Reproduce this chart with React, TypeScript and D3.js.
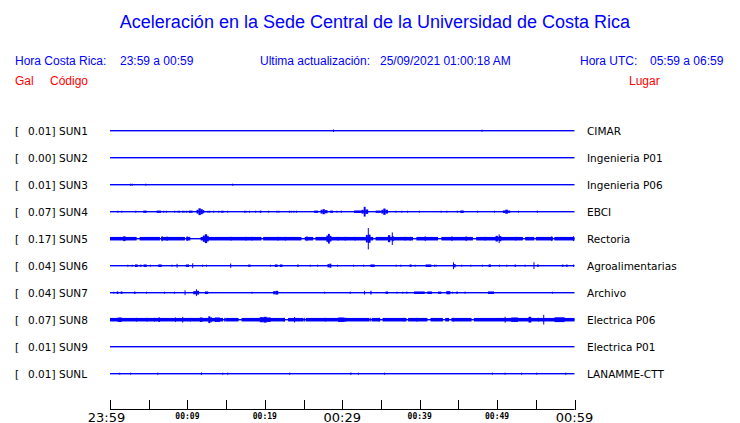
import React from "react";
import * as d3 from "d3";

// ---- Data ----
const stations = ["SUN1", "SUN2", "SUN3", "SUN4", "SUN5", "SUN6", "SUN7", "SUN8", "SUN9", "SUNL"];
const peaks = ["0.01", "0.00", "0.01", "0.07", "0.17", "0.04", "0.04", "0.07", "0.01", "0.01"];
const places = ["CIMAR", "Ingenieria P01", "Ingenieria P06", "EBCI", "Rectoria", "Agroalimentarias", "Archivo", "Electrica P06", "Electrica P01", "LANAMME-CTT"];

const tickMinutes = [0, 5, 10, 15, 20, 25, 30, 35, 40, 45, 50, 55, 60];
const tickLabels: [number, string, boolean][] = [
  [0, "23:59", true], [10, "00:09", false], [20, "00:19", false], [30, "00:29", true],
  [40, "00:39", false], [50, "00:49", false], [60, "00:59", true],
];

// events: [minute, duration (min), amplitude (gal)]
type Ev = [number, number, number];
const sun1Events: Ev[] = [[28.8, 0.05, 0.02], [48.0, 0.05, 0.012]];
const sun2Events: Ev[] = [];
const sun3Events: Ev[] = [[2.6, 0.05, 0.012], [2.8, 0.05, 0.012], [4.56, 0.05, 0.012], [15.78, 0.05, 0.01]];
const sun4Events: Ev[] = [
  [0.95, 0.05, 0.012], [1.46, 0.05, 0.012], [3.27, 0.05, 0.012], [4.3, 0.43, 0.018], [6.02, 0.56, 0.018],
  [6.88, 0.05, 0.012], [7.23, 0.05, 0.015], [8.3, 0.05, 0.015], [8.73, 0.05, 0.015], [8.9, 0.05, 0.012],
  [9.33, 0.1, 0.015], [9.5, 0.1, 0.015], [9.8, 0.05, 0.015], [10.19, 0.47, 0.018],
  [11.18, 0.25, 0.03], [11.43, 0.3, 0.054], [11.73, 0.25, 0.04], [11.98, 0.2, 0.025],
  [12.6, 0.05, 0.015], [12.82, 0.05, 0.015], [13.33, 0.05, 0.012], [13.98, 0.05, 0.015], [14.37, 0.3, 0.015],
  [15.14, 0.05, 0.012], [17.33, 0.05, 0.015], [17.5, 0.05, 0.012], [17.94, 0.05, 0.012], [18.75, 0.05, 0.012],
  [19.35, 0.2, 0.018], [20.43, 0.05, 0.012], [21.5, 0.05, 0.012], [21.76, 0.05, 0.015], [23.1, 0.05, 0.012],
  [23.35, 0.05, 0.012], [23.7, 0.05, 0.012], [24.04, 0.05, 0.012], [26.37, 0.5, 0.018],
  [27.2, 0.25, 0.03], [27.45, 0.3, 0.04], [27.75, 0.35, 0.025], [28.43, 0.38, 0.018], [29.25, 0.05, 0.012],
  [29.8, 0.1, 0.018], [31.53, 0.95, 0.02], [32.47, 0.3, 0.03], [32.77, 0.25, 0.077], [33.0, 0.35, 0.035],
  [34.32, 0.65, 0.018], [35.05, 0.25, 0.03], [35.3, 0.3, 0.05], [35.6, 0.3, 0.03], [36.86, 0.1, 0.012],
  [37.63, 0.1, 0.015], [38.37, 0.05, 0.012], [39.9, 0.05, 0.012], [42.7, 0.05, 0.012], [43.44, 0.05, 0.012],
  [44.8, 0.05, 0.012], [45.25, 0.45, 0.02], [47.4, 0.05, 0.012], [49.6, 0.05, 0.012],
  [50.75, 0.3, 0.02], [51.05, 0.35, 0.032], [51.4, 0.3, 0.018], [52.7, 0.05, 0.012], [55.14, 0.05, 0.018],
];
const sun5Events: Ev[] = [
  [1.7, 0.3, 0.038], [6.67, 0.05, 0.04], [7.31, 0.05, 0.035], [9.9, 0.05, 0.038],
  [12.0, 0.25, 0.05], [12.25, 0.3, 0.07], [12.55, 0.2, 0.045],
  [15.57, 0.05, 0.03], [17.5, 0.05, 0.03], [18.28, 0.05, 0.03], [21.63, 0.05, 0.03], [22.58, 0.05, 0.03],
  [25.38, 0.1, 0.038], [27.95, 0.2, 0.05], [28.15, 0.25, 0.077], [28.4, 0.2, 0.045],
  [29.38, 0.05, 0.03], [30.32, 0.05, 0.03], [31.6, 0.05, 0.03],
  [33.05, 0.25, 0.06], [33.3, 0.05, 0.17], [33.35, 0.3, 0.065],
  [35.9, 0.3, 0.055], [36.4, 0.05, 0.1], [36.45, 0.2, 0.04],
  [38.06, 0.05, 0.03], [38.7, 0.05, 0.03], [40.65, 0.1, 0.038], [44.1, 0.1, 0.038], [45.94, 0.1, 0.038],
  [48.39, 0.05, 0.03], [49.8, 0.3, 0.045], [50.2, 0.05, 0.07], [50.25, 0.3, 0.04], [52.35, 0.05, 0.03],
  [57.0, 0.1, 0.038], [59.8, 0.1, 0.038],
];
const sun6Events: Ev[] = [
  [2.24, 0.05, 0.012], [2.8, 0.05, 0.012], [3.23, 0.35, 0.02], [3.83, 0.26, 0.015], [4.34, 0.4, 0.02],
  [5.16, 0.05, 0.015], [6.24, 0.43, 0.02], [7.96, 0.05, 0.012], [8.6, 0.05, 0.03], [9.8, 0.4, 0.02],
  [10.62, 0.1, 0.038], [11.9, 0.05, 0.012], [12.4, 0.05, 0.012], [15.53, 0.05, 0.035], [17.85, 0.3, 0.018],
  [20.65, 0.05, 0.015], [21.3, 0.35, 0.02], [21.94, 0.35, 0.02], [24.17, 0.2, 0.018], [25.8, 0.05, 0.012],
  [26.75, 0.05, 0.012], [28.09, 0.25, 0.025], [28.34, 0.25, 0.032], [29.33, 0.05, 0.015], [31.4, 0.05, 0.015],
  [32.69, 0.05, 0.015], [33.63, 0.56, 0.02], [36.9, 0.05, 0.015], [37.5, 0.05, 0.015], [38.7, 0.25, 0.02],
  [39.35, 0.05, 0.015], [40.77, 0.73, 0.02], [41.85, 0.05, 0.015], [42.06, 0.05, 0.015], [44.3, 0.1, 0.054],
  [44.4, 0.25, 0.025], [45.38, 0.05, 0.015], [46.54, 0.05, 0.012], [48.04, 0.05, 0.015], [48.9, 0.3, 0.02],
  [50.24, 0.05, 0.015], [51.18, 0.05, 0.015], [52.26, 0.2, 0.018], [53.55, 0.05, 0.012], [54.7, 0.05, 0.054],
  [55.18, 0.2, 0.02], [58.37, 0.2, 0.018], [58.92, 0.2, 0.018], [59.8, 0.15, 0.018],
];
const sun7Events: Ev[] = [
  [0.43, 0.05, 0.012], [0.86, 0.22, 0.02], [1.38, 0.22, 0.02], [3.1, 0.2, 0.018], [4.65, 0.05, 0.012],
  [6.97, 0.1, 0.015], [8.26, 0.05, 0.015], [9.63, 0.1, 0.038], [10.75, 0.35, 0.025], [11.1, 0.1, 0.054],
  [11.2, 0.3, 0.03], [12.26, 0.43, 0.02], [18.28, 0.05, 0.015], [21.08, 0.3, 0.025], [21.38, 0.35, 0.03],
  [27.66, 0.05, 0.01], [30.97, 0.1, 0.018], [32.82, 0.1, 0.03], [33.63, 0.15, 0.03], [35.6, 0.3, 0.02],
  [37.0, 0.1, 0.015], [37.76, 0.05, 0.015], [38.28, 0.1, 0.018], [39.27, 1.38, 0.02], [40.99, 0.6, 0.02],
  [42.37, 0.43, 0.018], [43.44, 0.52, 0.025], [44.2, 0.05, 0.015], [44.73, 0.2, 0.018], [45.8, 0.1, 0.018],
  [48.82, 0.78, 0.02], [57.08, 0.05, 0.01],
];
const sun8Events: Ev[] = [
  [0.99, 0.52, 0.035], [3.35, 0.05, 0.03], [4.73, 0.05, 0.03], [5.68, 0.05, 0.03], [6.24, 0.22, 0.035],
  [8.39, 0.1, 0.035], [9.33, 0.1, 0.046], [10.32, 0.05, 0.03], [11.6, 0.35, 0.035], [12.7, 0.25, 0.054],
  [12.95, 0.2, 0.04], [13.55, 0.65, 0.035], [14.75, 0.05, 0.03], [19.35, 0.5, 0.04], [19.85, 0.4, 0.046],
  [20.25, 0.5, 0.035], [22.45, 0.05, 0.03], [23.78, 0.1, 0.043], [25.08, 0.05, 0.03], [27.74, 0.05, 0.03],
  [29.46, 0.75, 0.035], [30.2, 0.3, 0.03], [33.55, 0.05, 0.03], [34.7, 0.05, 0.03], [37.93, 0.05, 0.03],
  [39.57, 0.05, 0.03], [44.3, 0.05, 0.03], [50.97, 0.1, 0.046], [51.83, 0.86, 0.035], [54.06, 0.35, 0.046],
  [55.27, 0.05, 0.03], [55.96, 0.1, 0.077], [57.42, 1.3, 0.038],
];
const sun9Events: Ev[] = [];
const sunlEvents: Ev[] = [
  [1.2, 0.05, 0.012], [2.6, 0.05, 0.01], [6.1, 0.05, 0.01], [11.74, 0.1, 0.02], [14.5, 0.05, 0.015],
  [15.14, 0.05, 0.012], [23.14, 0.05, 0.015], [31.05, 0.05, 0.02], [32.04, 0.05, 0.012], [35.4, 0.05, 0.012],
  [49.33, 0.05, 0.012], [50.97, 0.1, 0.015], [53.1, 0.1, 0.015], [55.05, 0.05, 0.015], [58.8, 0.05, 0.015],
];

// continuous noise bands: [start minute, end minute]
const sun5Band: [number, number][] = [
  [0, 3.44], [3.83, 6.45], [6.58, 9.68], [9.85, 10.37], [11.7, 19.57], [19.78, 24.73], [25.16, 26.24],
  [26.54, 34.0], [34.3, 39.14], [39.57, 42.37], [42.8, 46.88], [47.3, 53.33], [53.63, 54.8], [55.0, 57.2], [57.4, 60],
];
const sun8Band: [number, number][] = [
  [0, 14.6], [14.9, 16.6], [17.0, 22.6], [23.0, 25.0], [25.3, 33.5], [33.8, 34.9], [35.2, 38.3],
  [38.5, 41.0], [41.4, 43.0], [43.3, 43.8], [44.1, 46.7], [47.0, 60],
];
const bandLevel = 0.028;

const allEvents = [sun1Events, sun2Events, sun3Events, sun4Events, sun5Events, sun6Events, sun7Events, sun8Events, sun9Events, sunlEvents];
const allBands: ([number, number][] | null)[] = [null, null, null, null, sun5Band, null, null, sun8Band, null, null];

const BLUE = "#0000ff";
const RED = "#ff0000";

export default function App() {
  const W = 740, H = 423;
  const x = d3.scaleLinear().domain([0, 60]).range([110, 574.5]);
  const y = d3.scalePoint<string>().domain(stations).range([130, 373]);
  const amp = d3.scaleLinear().domain([0, 0.17]).range([0, 10.7]);

  const sans = "'Liberation Sans', Arial, sans-serif";
  const dv = "'DejaVu Sans', sans-serif";

  return (
    <svg width={W} height={H} style={{ position: "absolute", left: 0, top: 0, background: "#fff" }}>
      <rect width={W} height={H} fill="#fff" />
      <text x={375} y={28} textAnchor="middle" fontFamily={sans} fontSize={18} fill={BLUE}>
        Aceleración en la Sede Central de la Universidad de Costa Rica
      </text>
      <g fontFamily={sans} fontSize={12} fill={BLUE}>
        <text x={15} y={65}>Hora Costa Rica:</text>
        <text x={120} y={65}>23:59 a 00:59</text>
        <text x={260} y={65}>Ultima actualización:</text>
        <text x={380} y={65}>25/09/2021 01:00:18 AM</text>
        <text x={580} y={65}>Hora UTC:</text>
        <text x={650} y={65}>05:59 a 06:59</text>
      </g>
      <g fontFamily={sans} fontSize={12} fill={RED}>
        <text x={15} y={85}>Gal</text>
        <text x={50} y={85}>Código</text>
        <text x={629} y={85}>Lugar</text>
      </g>

      {stations.map((s, i) => {
        const y0 = y(s) as number;
        const band = allBands[i];
        return (
          <g key={s}>
            <g fontFamily={dv} fontSize={10.5} fill="#000">
              <text x={15} y={y0 + 4.5}>[</text>
              <text x={55.5} y={y0 + 4.5} textAnchor="end">{peaks[i] + "]"}</text>
              <text x={59} y={y0 + 4.5}>{s}</text>
              <text x={587} y={y0 + 4.5}>{places[i]}</text>
            </g>
            <rect x={x(0)} y={y0} width={x(60) - x(0)} height={1.4} fill={BLUE} />
            {band && band.map(([a, b], j) => {
              const h = amp(bandLevel);
              return <rect key={"b" + j} x={x(a)} y={y0 - h + 0.7} width={x(b) - x(a)} height={2 * h} fill={BLUE} />;
            })}
            {allEvents[i].map(([m, d, a], j) => {
              const h = Math.max(1, amp(a));
              const w = Math.max(1, x(m + d) - x(m));
              return <rect key={"e" + j} x={x(m)} y={y0 - h + 0.7} width={w} height={2 * h} fill={BLUE} />;
            })}
          </g>
        );
      })}

      <g>
        <line x1={x(0)} x2={x(60)} y1={409.5} y2={409.5} stroke="#000" strokeWidth={1} />
        {tickMinutes.map((m) => (
          <line key={m} x1={Math.round(x(m)) + 0.5} x2={Math.round(x(m)) + 0.5} y1={400} y2={410} stroke="#000" strokeWidth={1} />
        ))}
        {tickLabels.map(([m, lab, big], k) =>
          big ? (
            <text key={lab} x={x(m)} dx={k === 0 ? -3.5 : 0} y={421.5} textAnchor="middle" fontFamily={dv} fontSize={13} fill="#000">{lab}</text>
          ) : (
            <text key={lab} x={x(m)} y={418.5} textAnchor="middle" fontFamily="'DejaVu Sans Mono', monospace" fontWeight="bold" fontSize={8} fill="#000">{lab}</text>
          )
        )}
      </g>
    </svg>
  );
}
